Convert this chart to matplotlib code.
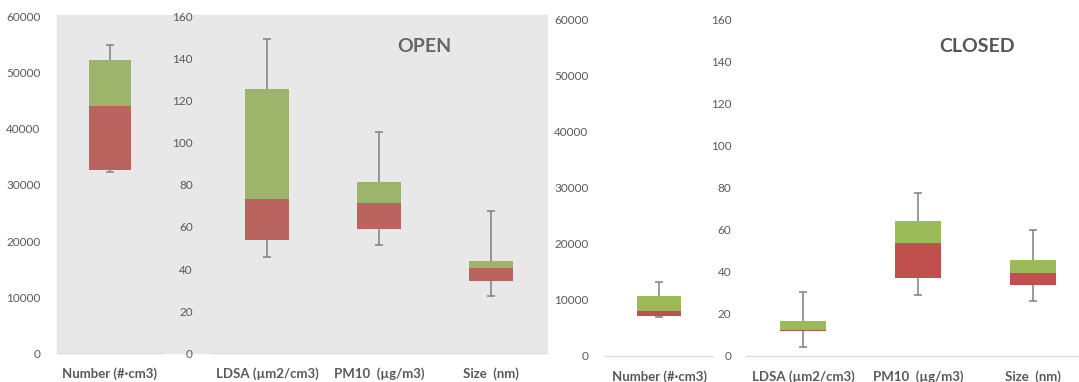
import numpy as np
import matplotlib.pyplot as plt
from matplotlib.patches import Rectangle

plt.rcParams['font.family'] = ['Lato', 'DejaVu Sans']

# box plot statistics: whisker low, Q1, median, Q3, whisker high
number_labels = ['Number (#·cm3)']
other_labels = ['LDSA (µm2/cm3)', 'PM10  (µg/m3)', 'Size  (nm)']

open_number = {'low': [32400], 'q1': [32700], 'med': [44100], 'q3': [52300], 'high': [55000]}
open_other = {'low': [45.7, 51.6, 27.1], 'q1': [53.7, 59.0, 34.4], 'med': [73.2, 71.3, 40.3],
              'q3': [125.7, 81.4, 43.8], 'high': [149.5, 105.4, 67.6]}

closed_number = {'low': [7000], 'q1': [7200], 'med': [8000], 'q3': [10700], 'high': [13200]}
closed_other = {'low': [4.4, 29.0, 26.2], 'q1': [12.1, 37.0, 34.0], 'med': [12.4, 53.8, 39.7],
                'q3': [16.7, 64.1, 45.9], 'high': [30.6, 77.5, 59.8]}

W, H = 1079, 382
fig = plt.figure(figsize=(W / 100, H / 100), dpi=100)

TXT = '#595959'


def px_axes(x0, x1, ytop, ybot):
    return fig.add_axes([x0 / W, (H - ybot) / H, (x1 - x0) / W, (ybot - ytop) / H])


def boxes(ax, labels, st, ymax, yticks, red, green, pad):
    x = np.arange(len(labels))
    med = np.array(st['med'])
    lo = med - np.array(st['low'])
    hi = np.array(st['high']) - med
    ax.errorbar(x, med, yerr=[lo, hi], fmt='none', ecolor='#7F7F7F', elinewidth=1.1,
                capsize=3, capthick=1.1, zorder=2)
    ax.bar(x, med - np.array(st['q1']), bottom=st['q1'], width=0.4, color=red, zorder=3)
    ax.bar(x, np.array(st['q3']) - med, bottom=med, width=0.4, color=green, zorder=3)
    ax.set_xlim(-0.5, len(labels) - 0.5)
    ax.set_ylim(0, ymax)
    ax.set_yticks(yticks)
    ax.set_xticks(x)
    ax.set_xticklabels(labels, fontweight='bold', fontsize=9.5, color=TXT)
    ax.tick_params(axis='y', length=0, pad=pad, labelsize=8.5, labelcolor=TXT)
    ax.tick_params(axis='x', length=0, pad=10)
    for s in ['top', 'left', 'right']:
        ax.spines[s].set_visible(False)
    ax.spines['bottom'].set_color('#D9D9D9')
    ax.patch.set_alpha(0)


# grey plot background behind the open-window panel
fig.patches.append(Rectangle((57 / W, (H - 353) / H), 490 / W, 338 / H,
                             transform=fig.transFigure, color='#E8E8E8', zorder=-5))

open_red, open_green = '#B9645F', '#9DB56A'
closed_red, closed_green = '#C0504D', '#9BBB59'

ax1 = px_axes(57, 163, 17, 353)
boxes(ax1, number_labels, open_number, 60000, np.arange(0, 60001, 10000), open_red, open_green, 12)
ax2 = px_axes(211, 547, 17, 353)
boxes(ax2, other_labels, open_other, 160, np.arange(0, 161, 20), open_red, open_green, 13)

ax3 = px_axes(605, 713, 20, 356)
boxes(ax3, number_labels, closed_number, 60000, np.arange(0, 60001, 10000), closed_red, closed_green, 12)
ax4 = px_axes(745.5, 1090.5, 20, 356)
boxes(ax4, other_labels, closed_other, 160, np.arange(0, 161, 20), closed_red, closed_green, 10)

fig.text(424.5 / W, (H - 47) / H, 'OPEN', ha='center', va='center', fontsize=14,
         fontweight='bold', color='#666666')
fig.text(977 / W, (H - 46) / H, 'CLOSED', ha='center', va='center', fontsize=14,
         fontweight='bold', color='#555555')

fig.savefig('out.png', dpi=100)
